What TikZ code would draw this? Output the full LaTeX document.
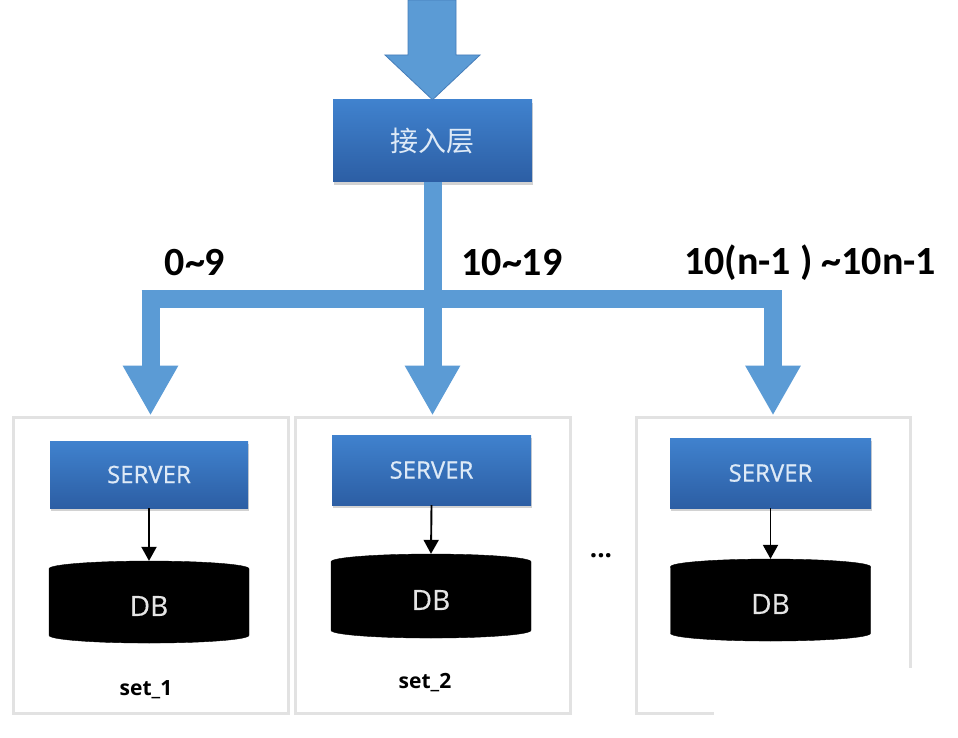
\documentclass[tikz,border=0pt]{standalone}
\usepackage{fontspec}
\setmainfont{Open Sans}
\newfontfamily\cjk{Noto Sans CJK SC}
\newfontfamily\labfont{Carlito}
\usetikzlibrary{arrows.meta,shapes.geometric,shadows}
\definecolor{arrowblue}{RGB}{91,155,213}
\definecolor{arrowedge}{RGB}{70,125,185}
\definecolor{boxtop}{RGB}{64,130,206}
\definecolor{boxbot}{RGB}{44,94,164}
\definecolor{setgray}{RGB}{226,226,226}
\definecolor{srvtext}{RGB}{222,234,247}
\begin{document}
\begin{tikzpicture}[x=1pt,y=-1pt,
  bluebox/.style={rectangle, top color=boxtop, bottom color=boxbot, draw=none,
    drop shadow={opacity=0.35, shadow xshift=1pt, shadow yshift=-3pt},
    text=srvtext, inner sep=0pt},
  setbox/.style={rectangle, draw=setgray, line width=3pt, fill=white, inner sep=0pt},
  dbcyl/.style={cylinder, shape border rotate=90, aspect=0.4, fill=black, draw=black,
    text=gray!20, minimum width=200pt, minimum height=82pt, inner sep=0pt,
    font=\addfontfeature{FakeBold=0.4}\fontsize{28}{30}\selectfont},
  tree/.style={draw=arrowblue, line width=18pt, line join=miter},
  treetip/.style={-{Triangle[width=52pt,length=50pt]}},
  link/.style={draw=black, line width=1.9pt, -{Triangle[width=15pt,length=14pt]}},
  srvfont/.style={font=\addfontfeature{FakeBold=0.6}\fontsize{24}{26}\selectfont},
  rangelab/.style={font=\labfont\bfseries\fontsize{40}{44}\selectfont, inner sep=0pt},
  setlab/.style={font=\bfseries\fontsize{21}{24}\selectfont, inner sep=0pt}
]
\useasboundingbox (0,0) rectangle (958,738);
\fill[white] (0,0) rectangle (958,738);

% set boxes
\node[setbox, minimum width=275pt, minimum height=296pt] (set1) at (150.5,565) {};
\node[setbox, minimum width=275pt, minimum height=296pt] (set2) at (432.5,565) {};
\node[setbox, minimum width=274pt, minimum height=296pt] (set3) at (773,565) {};
\fill[white] (714,668) rectangle (958,738);

% access layer
\node[bluebox, minimum width=199pt, minimum height=82pt,
  font=\cjk\fontsize{28}{30}\selectfont] (access) at (432.5,141) {接入层};

% incoming arrow
\coordinate (intop) at (432,0);
\draw[arrowedge, line width=0.8pt, fill=arrowblue]
  (408,0) -- (456,0) -- (456,55) -- (480,55) -- (access.north) -- (385,55) -- (408,55) -- cycle;

% distribution tree
\coordinate (fork) at (434,299);
\draw[tree] (fork -| set1.north) -- (fork -| set3.north);
\draw[tree, treetip] (access.south) -- (set2.north);
\draw[tree, treetip] (fork -| set1.north) -- (set1.north);
\draw[tree, treetip] (fork -| set3.north) -- (set3.north);
\draw[arrowblue, line width=18pt] ([xshift=-9pt]fork -| set1.north) -- ([xshift=9pt]fork -| set1.north);
\draw[arrowblue, line width=18pt] ([xshift=-9pt]fork -| set3.north) -- ([xshift=9pt]fork -| set3.north);

% range labels
\node[rangelab] (r1) at (195,263) {0\textasciitilde9};
\node[rangelab] (r2) at (512,263) {10\textasciitilde19};
\node[rangelab] (r3) at (810,263) {10(n-1 ) \textasciitilde10n-1};

% servers
\node[bluebox, srvfont, minimum width=198pt, minimum height=67pt] (srv1) at (149,474.5) {SERVER};
\node[bluebox, srvfont, minimum width=199pt, minimum height=70pt] (srv2) at (431.5,470) {SERVER};
\node[bluebox, srvfont, minimum width=201pt, minimum height=70pt] (srv3) at (770.5,473) {SERVER};

% databases
\node[dbcyl] (db1) at (149,606) {DB};
\node[dbcyl, minimum height=84pt] (db2) at (431,600) {DB};
\node[dbcyl] (db3) at (770.5,604) {DB};

\draw[link] (srv1.south) -- (db1.north);
\draw[link] (srv2.south) -- (db2.north);
\draw[link] (srv3.south) -- (db3.north);

% set labels
\node[setlab] (l1) at (146,690) {set\_1};
\node[setlab] (l2) at (425,683) {set\_2};

\node[font=\bfseries\fontsize{26}{28}\selectfont, inner sep=0pt] (dots) at (601,556) {...};
\end{tikzpicture}
\end{document}
